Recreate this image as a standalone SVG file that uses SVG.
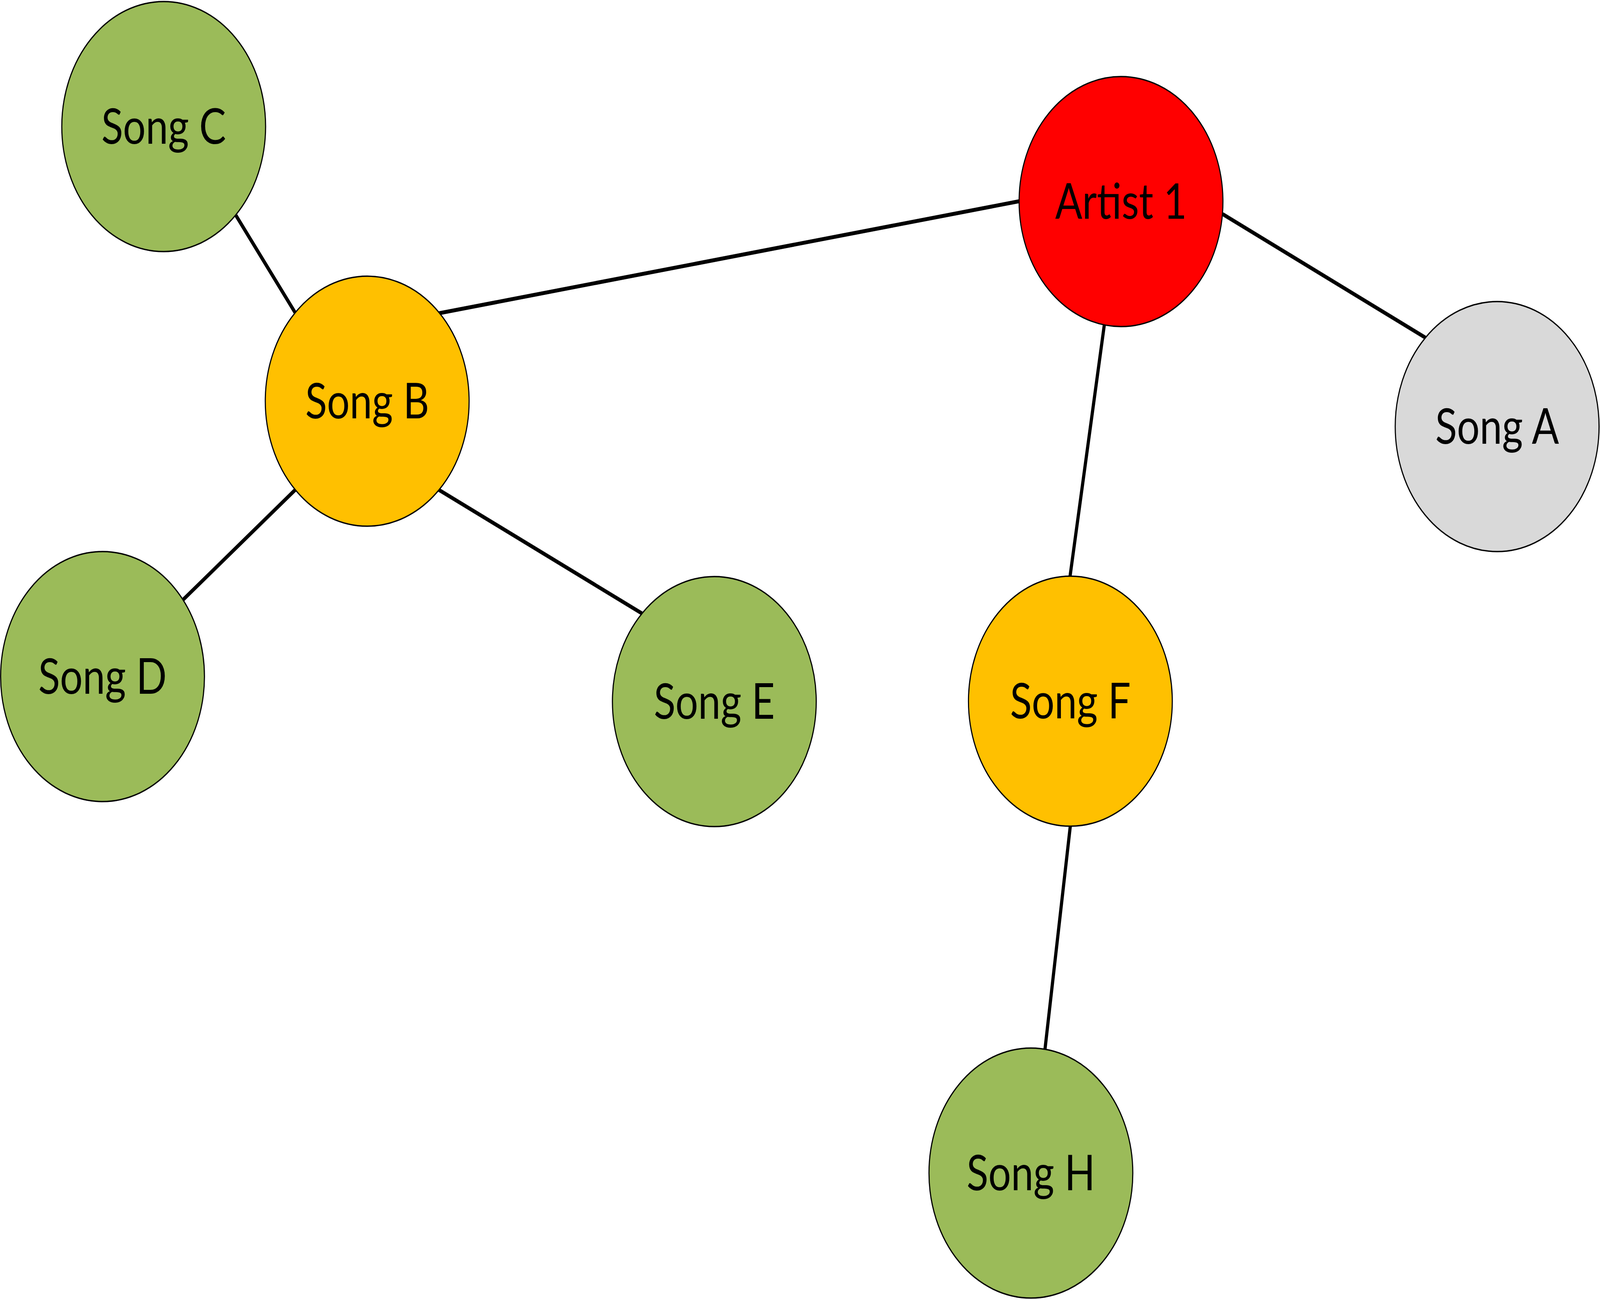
<svg xmlns="http://www.w3.org/2000/svg" width="5024" height="3328" viewBox="0 0 5024 3328" preserveAspectRatio="none" style="width:100vw;height:100vh;display:block">
<style>
.node{stroke:#000;stroke-width:3.5}
.green{fill:#9BBB59}
.yellow{fill:#FFC000}
.red{fill:#FF0000}
.gray{fill:#D9D9D9}
.lbl{font-family:Lato,"Open Sans","Liberation Sans",sans-serif;font-size:126px;fill:#000;text-anchor:middle}
.edge{stroke:#000;stroke-width:10;fill:none}
</style>
<rect width="5024" height="3328" fill="#fff"/>
<g id="connectors">
<line class="edge" x1="739" y1="549" x2="928" y2="802"/>
<line class="edge" x1="1378" y1="802" x2="3201" y2="515"/>
<line class="edge" x1="3839" y1="548" x2="4477" y2="865"/>
<line class="edge" x1="3468" y1="829" x2="3360" y2="1475"/>
<line class="edge" x1="927" y1="1254" x2="574" y2="1536"/>
<line class="edge" x1="1378" y1="1254" x2="2017" y2="1571"/>
<line class="edge" x1="3361" y1="2113" x2="3281" y2="2688"/>
</g>
<g id="song-c"><circle class="node green" cx="514" cy="324" r="320"/><text class="lbl" x="514" y="368">Song C</text></g>
<g id="song-b"><circle class="node yellow" cx="1153" cy="1027" r="320"/><text class="lbl" x="1153" y="1071">Song B</text></g>
<g id="artist-1"><circle class="node red" cx="3520" cy="516" r="320"/><text class="lbl" x="3520" y="560">Artist 1</text></g>
<g id="song-a"><circle class="node gray" cx="4701" cy="1092" r="320"/><text class="lbl" x="4701" y="1136">Song A</text></g>
<g id="song-d"><circle class="node green" cx="322" cy="1732" r="320"/><text class="lbl" x="322" y="1776">Song D</text></g>
<g id="song-e"><circle class="node green" cx="2243" cy="1796" r="320"/><text class="lbl" x="2243" y="1840">Song E</text></g>
<g id="song-f"><circle class="node yellow" cx="3361" cy="1795" r="320"/><text class="lbl" x="3361" y="1839">Song F</text></g>
<g id="song-h"><circle class="node green" cx="3237" cy="3003" r="320"/><text class="lbl" x="3237" y="3047">Song H</text></g>
</svg>
